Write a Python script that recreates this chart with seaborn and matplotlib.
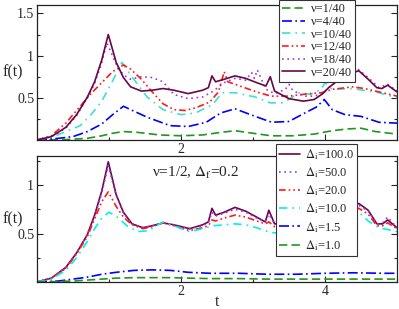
import matplotlib
matplotlib.use("Agg")
import matplotlib.pyplot as plt
import seaborn as sns
from matplotlib.ticker import FixedLocator

sns.set_style("ticks")
plt.rcParams["font.family"] = ["Liberation Serif", "DejaVu Serif"]
plt.rcParams["mathtext.fontset"] = "stix"

# ---- top panel: f(t) for several nu ----
t_n20 = [0, 0.2, 0.4, 0.55, 0.7, 0.8, 0.9, 0.99, 1.1, 1.2, 1.3, 1.45, 1.6, 1.75, 1.9, 2.1, 2.3, 2.38, 2.43,
         2.48, 2.6, 2.75, 2.9, 3.05, 3.18, 3.24, 3.3, 3.5, 3.7, 3.85, 3.97, 4.05, 4.2, 4.35, 4.47, 4.6, 4.72,
         4.79, 4.87, 5.0]
f_n20 = [0, 0.04, 0.15, 0.3, 0.51, 0.69, 0.95, 1.25, 0.92, 0.74, 0.63, 0.58, 0.59, 0.61, 0.59, 0.55, 0.59, 0.62,
         0.76, 0.69, 0.72, 0.76, 0.73, 0.68, 0.64, 0.75, 0.58, 0.49, 0.46, 0.48, 0.55, 0.62, 0.72, 0.79, 0.82, 0.72,
         0.62, 0.61, 0.65, 0.57]
t_n18 = [0, 0.2, 0.4, 0.55, 0.7, 0.8, 0.9, 0.97, 1.1, 1.2, 1.3, 1.45, 1.6, 1.75, 1.9, 2.1, 2.3, 2.45, 2.6, 2.75,
         2.9, 2.98, 3.02, 3.06, 3.18, 3.3, 3.45, 3.5, 3.55, 3.7, 3.85, 3.97, 4.05, 4.2, 4.35, 4.42, 4.47, 4.6,
         4.75, 4.87, 5.0]
f_n18 = [0, 0.04, 0.14, 0.29, 0.5, 0.67, 0.92, 1.15, 0.9, 0.77, 0.72, 0.75, 0.74, 0.69, 0.54, 0.49, 0.51, 0.58,
         0.68, 0.73, 0.71, 0.8, 0.73, 0.83, 0.6, 0.55, 0.6, 0.66, 0.59, 0.52, 0.52, 0.55, 0.62, 0.72, 0.82, 0.87,
         0.83, 0.74, 0.62, 0.66, 0.58]
t_n12 = [0, 0.2, 0.4, 0.6, 0.75, 0.9, 1.05, 1.2, 1.3, 1.45, 1.6, 1.75, 1.9, 2.05, 2.2, 2.4, 2.52, 2.6, 2.65,
         2.85, 3.05, 3.25, 3.5, 3.78, 3.95, 4.1, 4.38, 4.55, 4.8, 5.0]
f_n12 = [0, 0.05, 0.2, 0.4, 0.55, 0.68, 0.81, 0.89, 0.84, 0.72, 0.57, 0.43, 0.36, 0.35, 0.38, 0.45, 0.57, 0.81,
         0.69, 0.63, 0.57, 0.52, 0.52, 0.55, 0.56, 0.6, 0.63, 0.61, 0.56, 0.52]
t_n10 = [0, 0.2, 0.4, 0.6, 0.75, 0.9, 1.05, 1.18, 1.3, 1.53, 1.75, 2.0, 2.2, 2.44, 2.57, 2.75, 3.03, 3.24, 3.42,
         3.64, 3.8, 3.95, 4.0, 4.1, 4.38, 4.75, 5.0]
f_n10 = [0, 0.03, 0.1, 0.17, 0.3, 0.46, 0.7, 0.92, 0.77, 0.51, 0.36, 0.3, 0.32, 0.42, 0.56, 0.56, 0.51, 0.44,
         0.44, 0.56, 0.54, 0.6, 0.68, 0.6, 0.61, 0.56, 0.5]
t_n4 = [0, 0.3, 0.5, 0.7, 0.9, 1.05, 1.2, 1.3, 1.53, 1.85, 2.1, 2.35, 2.55, 2.75, 3.03, 3.26, 3.5, 3.72, 3.88,
        3.99, 4.1, 4.28, 4.5, 4.75, 5.0]
f_n4 = [0, 0.02, 0.04, 0.1, 0.19, 0.3, 0.4, 0.36, 0.27, 0.17, 0.16, 0.21, 0.32, 0.37, 0.28, 0.21, 0.22, 0.32,
        0.39, 0.48, 0.36, 0.3, 0.28, 0.21, 0.2]
t_n1 = [0, 0.4, 0.7, 0.9, 1.05, 1.2, 1.4, 1.7, 2.0, 2.3, 2.55, 2.75, 3.0, 3.25, 3.55, 3.85, 4.1, 4.3, 4.5, 4.7, 5.0]
f_n1 = [0, 0.005, 0.02, 0.05, 0.08, 0.1, 0.09, 0.06, 0.05, 0.06, 0.09, 0.11, 0.08, 0.05, 0.05, 0.07, 0.11, 0.13,
        0.14, 0.1, 0.07]

# ---- bottom panel: nu=1/2, Delta_f=0.2, several Delta_i ----
t_d = [0, 0.2, 0.4, 0.55, 0.7, 0.8, 0.9, 0.99, 1.1, 1.2, 1.32, 1.47, 1.6, 1.75, 1.9, 2.12, 2.3, 2.38, 2.43, 2.48,
       2.6, 2.75, 2.9, 3.05, 3.17, 3.22, 3.3, 3.5, 3.7, 3.85, 4.0, 4.15, 4.3, 4.47, 4.6, 4.72, 4.8, 4.87, 5.0]
f_d100 = [0, 0.04, 0.15, 0.3, 0.49, 0.69, 0.94, 1.24, 0.9, 0.72, 0.6, 0.56, 0.58, 0.61, 0.59, 0.55, 0.59, 0.62,
          0.76, 0.69, 0.72, 0.77, 0.73, 0.67, 0.62, 0.74, 0.6, 0.6, 0.62, 0.65, 0.68, 0.72, 0.76, 0.81, 0.74, 0.6,
          0.6, 0.64, 0.56]
f_d50 = [0, 0.04, 0.15, 0.3, 0.49, 0.68, 0.92, 1.2, 0.89, 0.71, 0.6, 0.56, 0.58, 0.61, 0.59, 0.55, 0.58, 0.61,
         0.72, 0.68, 0.71, 0.75, 0.72, 0.66, 0.62, 0.7, 0.6, 0.6, 0.62, 0.65, 0.68, 0.72, 0.75, 0.79, 0.73, 0.6,
         0.61, 0.67, 0.56]
f_d20 = [0, 0.04, 0.14, 0.29, 0.47, 0.65, 0.83, 0.93, 0.78, 0.67, 0.59, 0.55, 0.57, 0.61, 0.58, 0.53, 0.56, 0.58,
         0.64, 0.63, 0.66, 0.69, 0.67, 0.63, 0.6, 0.62, 0.57, 0.57, 0.6, 0.63, 0.66, 0.7, 0.73, 0.76, 0.7, 0.58,
         0.58, 0.61, 0.55]
t_d10 = [0, 0.2, 0.4, 0.55, 0.7, 0.8, 0.9, 1.0, 1.1, 1.25, 1.4, 1.55, 1.75, 1.9, 2.12, 2.3, 2.44, 2.6, 2.75, 2.9,
         3.05, 3.25, 3.5, 3.8, 4.15, 4.35, 4.47, 4.6, 4.75, 5.0]
f_d10 = [0, 0.03, 0.12, 0.25, 0.42, 0.55, 0.66, 0.72, 0.68, 0.58, 0.52, 0.53, 0.62, 0.58, 0.52, 0.55, 0.58,
         0.59, 0.6, 0.59, 0.56, 0.51, 0.5, 0.52, 0.6, 0.66, 0.72, 0.63, 0.56, 0.52]
t_dlow = [0, 0.3, 0.5, 0.7, 0.9, 1.1, 1.35, 1.6, 1.85, 2.1, 2.4, 2.8, 3.2, 3.6, 4.0, 4.4, 4.8, 5.0]
f_d15 = [0, 0.01, 0.03, 0.05, 0.08, 0.1, 0.12, 0.125, 0.12, 0.1, 0.09, 0.09, 0.08, 0.08, 0.09, 0.095, 0.09, 0.09]
f_d10_low = [0, 0.005, 0.01, 0.02, 0.03, 0.04, 0.045, 0.045, 0.045, 0.04, 0.035, 0.035, 0.03, 0.03, 0.03, 0.03,
             0.03, 0.03]

maroon = "#670748"
violet = "#a035e0"
red = "#ff1a1a"
turq = "#40e0d0"
cyan = "#00f0f0"
blue = "#0000ff"
green = "#1f961f"

ls_dash = (0, (5, 2.5))
ls_dashdot = (0, (6, 2, 1, 2))
ls_dashdot2 = (0, (5, 3, 1, 3))
ls_dashdotdot = (0, (4, 1.8, 1, 1.8, 1, 1.8))
ls_dot = (0, (1, 2.2))
lw = 1.2

fig = plt.figure(figsize=(3.99, 3.09), dpi=100)
ax1 = fig.add_axes([37 / 399, 1 - 140 / 309, 360 / 399, 135 / 309])
ax2 = fig.add_axes([37 / 399, 1 - 282 / 309, 360 / 399, 126 / 309])

top = [
    (t_n1, f_n1, green, ls_dash, "ν=1/40"),
    (t_n4, f_n4, blue, ls_dashdot, "ν=4/40"),
    (t_n10, f_n10, turq, ls_dashdot2, "ν=10/40"),
    (t_n12, f_n12, red, ls_dashdotdot, "ν=12/40"),
    (t_n18, f_n18, violet, ls_dot, "ν=18/40"),
    (t_n20, f_n20, maroon, "-", "ν=20/40"),
]
for t, f, c, ls, lab in top:
    sns.lineplot(x=t, y=f, color=c, linestyle=ls, lw=lw, label=lab, ax=ax1, sort=False)

bottom = [
    (t_d, f_d100, maroon, "-", r"$\Delta_\mathrm{i}$=100.0"),
    (t_d, f_d50, violet, ls_dot, r"$\Delta_\mathrm{i}$=50.0"),
    (t_d, f_d20, red, ls_dashdotdot, r"$\Delta_\mathrm{i}$=20.0"),
    (t_d10, f_d10, cyan, ls_dashdot2, r"$\Delta_\mathrm{i}$=10.0"),
    (t_dlow, f_d15, blue, ls_dashdot, r"$\Delta_\mathrm{i}$=1.5"),
    (t_dlow, f_d10_low, green, ls_dash, r"$\Delta_\mathrm{i}$=1.0"),
]
for t, f, c, ls, lab in bottom:
    sns.lineplot(x=t, y=f, color=c, linestyle=ls, lw=lw, label=lab, ax=ax2, sort=False)

# top panel's "4" sits under the lower legend in the original
for ax, ymax, ymaj, ymin, xlabs in [(ax1, 1.6, [0.5, 1, 1.5], [0.25, 0.75, 1.25], ["2", ""]),
                                    (ax2, 1.3, [0.5, 1], [0.25, 0.75, 1.25], ["2", "4"])]:
    ax.set_xlim(0, 5)
    ax.set_ylim(0, ymax)
    ax.xaxis.set_major_locator(FixedLocator([2, 4]))
    ax.xaxis.set_minor_locator(FixedLocator([1, 3, 5]))
    ax.yaxis.set_major_locator(FixedLocator(ymaj))
    ax.yaxis.set_minor_locator(FixedLocator(ymin))
    ax.set_xticklabels(xlabs)
    ax.set_yticklabels([f"{v:g}" for v in ymaj])
    ax.tick_params(which="both", direction="in", right=True, top=False, labelsize=10, pad=2, width=0.8)
    ax.tick_params(which="major", length=4.5)
    ax.tick_params(which="minor", length=2.5)
    for s in ax.spines.values():
        s.set_linewidth(0.9)
        s.set_color("#222222")
    ax.set_xlabel("")
    ax.set_ylabel("")
    ax.text(-0.067, 0.5, "f(t)", transform=ax.transAxes, ha="center", va="center", fontsize=11.5)

leg1 = ax1.legend(loc="upper left", bbox_to_anchor=(0.672, 1.035), fontsize=9, frameon=True, fancybox=False,
                  framealpha=1, edgecolor="#333333", handlelength=1.8, handletextpad=0.5, labelspacing=0.05,
                  borderpad=0.25, borderaxespad=0)
leg1.get_frame().set_linewidth(0.8)
leg2 = ax2.legend(loc="upper left", bbox_to_anchor=(0.663, 1.095), fontsize=9, frameon=True, fancybox=False,
                  framealpha=1, edgecolor="#333333", handlelength=1.7, handletextpad=0.4, labelspacing=0.27,
                  borderpad=0.25, borderaxespad=0)
leg2.get_frame().set_linewidth(0.8)

ax2.text(0.32, 0.865, r"ν=1/2, $\Delta_\mathrm{f}$=0.2", transform=ax2.transAxes, ha="left", va="center",
         fontsize=11)
ax2.text(0.5, -0.155, "t", transform=ax2.transAxes, ha="center", va="center", fontsize=11.5)

fig.savefig("out.png", dpi=100)
